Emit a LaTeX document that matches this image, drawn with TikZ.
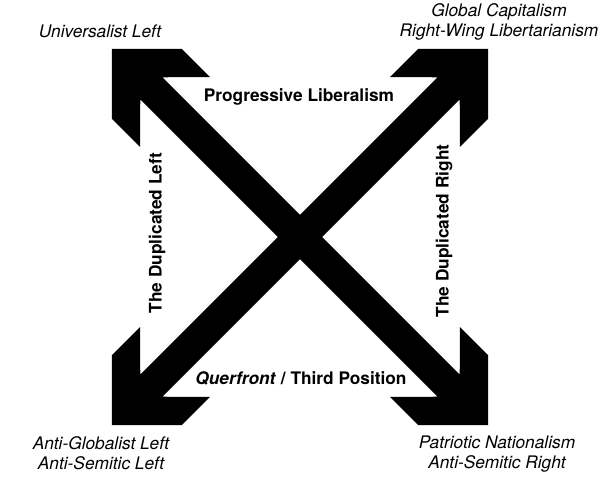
\documentclass[tikz,border=0pt]{standalone}
\usepackage{fontspec}
\setmainfont{TeX Gyre Heros}
\usepackage{tikz}
\usetikzlibrary{positioning}
\tikzset{
  arrowfill/.style={fill=black, draw=none},
  cornerlabel/.style={
    font=\fontsize{12.3}{14.2}\selectfont\itshape,
    align=center, inner sep=0pt
  },
  sidelabel/.style={
    font=\fontsize{12.3}{14.2}\selectfont\bfseries,
    align=center, inner sep=0pt
  },
  bigarrow/.pic={
    \fill[arrowfill] (-6.647,0) -- (-5.410,1.237) -- (-4.419,1.237) -- (-5.257,0.39)
      -- (5.257,0.39) -- (4.419,1.237) -- (5.410,1.237) -- (6.647,0)
      -- (5.410,-1.237) -- (4.419,-1.237) -- (5.257,-0.39)
      -- (-5.257,-0.39) -- (-4.419,-1.237) -- (-5.410,-1.237) -- cycle;
  },
}
\begin{document}
\begin{tikzpicture}
  \useasboundingbox (-7.5,-6.075) rectangle (7.5,5.925);
  % the two crossing arrows
  \pic[rotate=-45] at (0,0) {bigarrow};
  \pic[rotate=45] at (0,0) {bigarrow};
  % corner labels
  \node[cornerlabel] (uleft) at (-5.0,5.15) {Universalist Left};
  \node[cornerlabel] (gcap) at (4.975,5.375) {Global Capitalism\\Right-Wing Libertarianism};
  \node[cornerlabel] (aleft) at (-4.975,-5.4) {Anti-Globalist Left\\Anti-Semitic Left};
  \node[cornerlabel] (pnat) at (4.925,-5.425) {Patriotic Nationalism\\Anti-Semitic Right};
  % side labels
  \node[sidelabel] (proglib) at (-0.025,3.5) {Progressive Liberalism};
  \node[sidelabel] (querf) at (0.025,-3.525) {\textit{Querfront} / Third Position};
  \node[sidelabel, rotate=90] (dupleft) at (-3.575,0.1) {The Duplicated Left};
  \node[sidelabel, rotate=90] (dupright) at (3.6,0.15) {The Duplicated Right};
\end{tikzpicture}
\end{document}
